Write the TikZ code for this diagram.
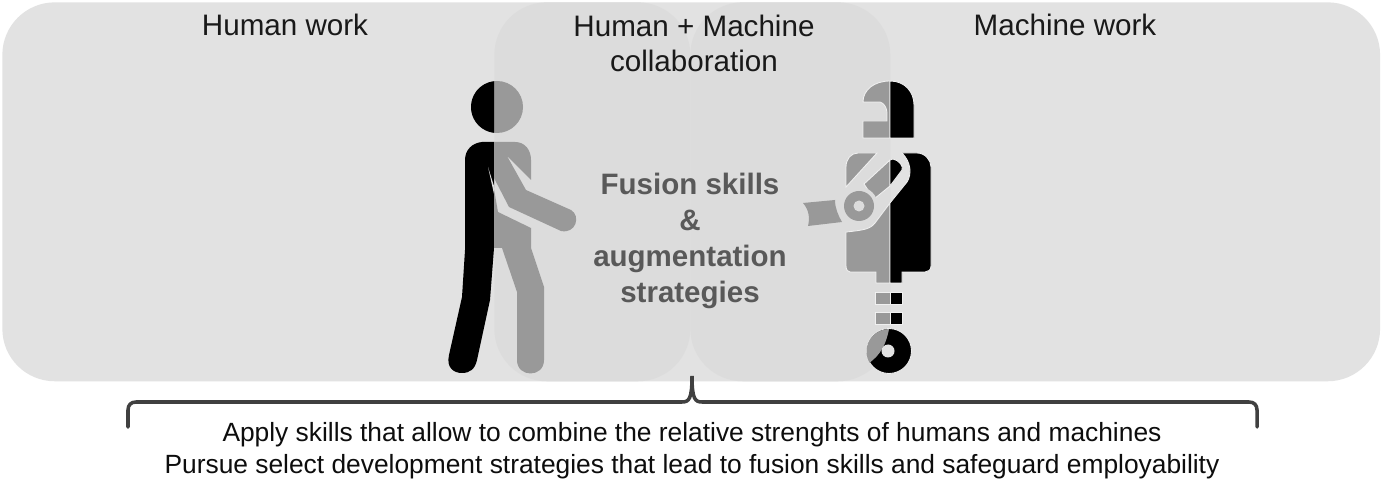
\documentclass[tikz,border=0pt]{standalone}
\usepackage{fontspec}
\setmainfont{Liberation Sans}
\usepackage{xcolor}
\usepackage{tikz}
\usetikzlibrary{positioning,calc}
\definecolor{panelgray}{HTML}{E2E2E2}
\definecolor{overlapgray}{HTML}{DCDCDC}
\definecolor{figgray}{HTML}{999999}
\definecolor{bracegray}{HTML}{404040}
\definecolor{boldgray}{HTML}{595959}
\definecolor{halo}{HTML}{F0F0F0}

\begin{document}
\begin{tikzpicture}[
		x = 0.02cm,
		y = -0.02cm,
		panel/.style = {minimum height = 7.58cm, rounded corners = 1.05cm, inner sep = 0, anchor = north west},
		title/.style = {font = \fontsize{16.85}{20}\selectfont, align = center, text = black!90, inner sep = 0},
		fusion/.style = {font = \fontsize{16.8}{20.5}\selectfont\bfseries, align = center, text = boldgray, inner sep = 0},
		foot/.style = {font = \fontsize{15}{18.2}\selectfont, align = center, text = black!95, inner sep = 0},
		human/.style = {fill = figgray},
		robotgray/.style = {fill = figgray, draw = halo, line width = 0.5pt},
		robotblack/.style = {fill = black, draw = halo, line width = 0.5pt}]

	\useasboundingbox (0,0) rectangle (1382,482);
	\fill[white] (0,0) rectangle (1382,482);

	\node[panel, fill = panelgray, minimum width = 27.56cm] (mainpanel) at (2,2) {};
	\node[panel, fill = overlapgray, minimum width = 3.92cm] (overlapleft) at (494,2) {};
	\node[panel, fill = overlapgray, minimum width = 4cm] (overlapright) at (690,2) {};

	\node[title] (humanwork) at (285,25) {Human work};
	\node[title] (collab) at (694,43) {Human + Machine\\collaboration};
	\node[title] (machinework) at (1065,25) {Machine work};
	\node[fusion] (fusionskills) at (690,241) {Fusion skills\\\&\\augmentation\\strategies};

	% person
	\fill[human] (497,107) circle (26);
	\fill[black] (494,81.2) arc (263.4:96.6:26) -- cycle;
	\fill[black] (494,142) -- (482,142) .. controls (472,143) and (465,150) .. (465,160) -- (465,250) -- (462,297) -- (449,355)
		.. controls (446,368) and (454,373) .. (462,373) .. controls (470,373) and (475,369) .. (477,360) -- (490,300) -- (494,248) -- cycle;
	\fill[overlapgray] (488,167) -- (498,212) -- (500,205) -- cycle;
	\fill[human] (494,142) -- (515,142) .. controls (525,142) and (531,150) .. (531,160) -- (531,180) -- (507,156) -- (526,190) -- (571,210)
		.. controls (581,216) and (576,234) .. (561,231) -- (509,207) -- (494,178) -- cycle;
	\fill[human] (494,189) -- (498,212) -- (531,228) -- (531,248) -- (544,287) -- (544,360)
		.. controls (544,378) and (517,378) .. (517,360) -- (517,292) -- (502,248) -- (494,248) -- cycle;

	% robot
	\fill[robotgray] (890,81) .. controls (874,81) and (863,90) .. (863,102) -- (880,102) .. controls (884,103) and (887,108) .. (887,113)
		-- (887,121) -- (863,121) -- (863,138) -- (890,138) -- cycle;
	\fill[robotblack] (890,81) .. controls (905,81) and (914,92) .. (914,105) -- (914,138) -- (890,138) -- cycle;
	\fill[robotgray] (877,153) -- (858,153) .. controls (851,153) and (846,159) .. (846,167) -- (846,187) -- cycle;
	\fill[robotgray] (890,203) -- (875,223) .. controls (870,229) and (865,230) .. (846,232) -- (846,266) .. controls (846,270) and (848,272) .. (850,272)
		-- (876,272) -- (876,283) -- (890,283) -- cycle;
	\fill[robotblack] (902,153) -- (917,153) .. controls (925,153) and (931,160) .. (931,167) -- (931,266) .. controls (931,270) and (928,272) .. (925,272)
		-- (902,272) -- (902,283) -- (890,283) -- (890,203) -- (907,182) .. controls (912,174) and (911,162) .. (902,153) -- cycle;
	\fill[robotgray] (890,160) -- (864,184) -- (874,199) -- (890,186) -- cycle;
	\fill[robotblack] (890,160) -- (893,159) .. controls (899,160) and (904,167) .. (902,170) -- (890,186) -- cycle;
	\fill[overlapgray] (859,206) circle (19);
	\fill[figgray] (859,206) circle (15);
	\fill[overlapgray] (859,206) circle (5.5);
	\fill[figgray] (803,203) -- (835,200) .. controls (835,208) and (838,215) .. (842,222) -- (808,226) .. controls (810,218) and (809,210) .. (803,203) -- cycle;
	\fill[robotgray] (875,292) rectangle (890,304);
	\fill[robotblack] (890,292) rectangle (902,304);
	\fill[robotgray] (875,312) rectangle (890,324);
	\fill[robotblack] (890,312) rectangle (902,324);
	\fill[robotblack] (889,351) circle (22.5);
	\fill[figgray] (889,329) arc (270:150:22.5) .. controls (880,355) and (886,345) .. (889,329) -- cycle;
	\fill[panelgray] (888,351) circle (6.5);

	% bracket
	\coordinate (braceleft) at (128,427);
	\coordinate (braceright) at (1257,427);
	\coordinate (bracetip) at (692,376);
	\draw[bracegray, line width = 2pt, line cap = round] (braceleft) -- (128,410) .. controls (128,405) and (131,402) .. (136,402) -- (682,402)
		.. controls (689,402) and (692,399) .. (bracetip) .. controls (692,399) and (695,402) .. (702,402) -- (1249,402)
		.. controls (1254,402) and (1257,405) .. (1257,410) -- (braceright);

	\node[foot] (footnote) at (692,451) {Apply skills that allow to combine the relative strenghts of humans and machines\\Pursue select development strategies that lead to fusion skills and safeguard employability};

\end{tikzpicture}
\end{document}
